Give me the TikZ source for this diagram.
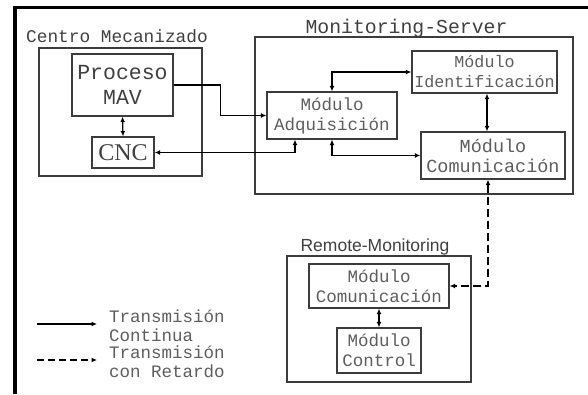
\documentclass[tikz,border=0pt]{standalone}
\usepackage{fontspec}
\usetikzlibrary{arrows.meta}
\newfontfamily\monofam{Liberation Mono}
\newfontfamily\seriffam{Liberation Serif}
\newfontfamily\sansfam{Liberation Sans}
\definecolor{boxline}{HTML}{3C3C3C}
\definecolor{txtgray}{HTML}{5E5E5E}
\definecolor{txtdark}{HTML}{404040}
\tikzset{
  box/.style={draw=boxline, line width=1.3pt, inner sep=0pt, align=center, text=txtgray},
  modbox/.style={box, font=\monofam\fontsize{17.5}{20}\selectfont},
  grouplabel/.style={anchor=base, inner sep=0pt, text=txtdark},
  conn/.style={line width=1.2pt, -{Latex[length=5.5pt,width=5pt]}},
  dconn/.style={line width=1.2pt, {Latex[length=5.5pt,width=5pt]}-{Latex[length=5.5pt,width=5pt]}},
  dashconn/.style={dconn, dash pattern=on 8pt off 4pt},
  legtext/.style={anchor=base west, inner sep=0pt, text=txtgray, font=\monofam\fontsize{17.5}{20}\selectfont}
}
\begin{document}
\begin{tikzpicture}[x=1pt,y=-1pt]
\useasboundingbox (0,0) rectangle (588,394);
\fill[white] (0,0) rectangle (588,394);
% frame
\draw[line width=3.5pt] (14.8,394) -- (14.8,7.5) -- (588,7.5);

% Centro Mecanizado
\node[box, minimum width=163pt, minimum height=128pt] (cm) at (120.5,112) {};
\node[grouplabel, font=\monofam\fontsize{17.8}{20}\selectfont] (cmlab) at (117,42) {Centro Mecanizado};
\node[box, minimum width=101pt, minimum height=62pt, text=txtdark, font=\monofam\fontsize{21.5}{25}\selectfont] (proc) at (122.5,85) {Proceso\\MAV};
\node[box, minimum width=62pt, minimum height=31pt, text=txtdark, font=\seriffam\fontsize{24}{25}\selectfont] (cnc) at (123,152.5) {CNC};

% Monitoring-Server
\node[box, minimum width=318pt, minimum height=157pt] (ms) at (414,115.5) {};
\node[grouplabel, font=\monofam\fontsize{19.8}{22}\selectfont] (mslab) at (406.5,33.5) {Monitoring-Server};
\node[modbox, minimum width=145pt, minimum height=42pt, font=\monofam\fontsize{16.7}{20}\selectfont] (ident) at (484.5,72) {Módulo\\Identificación};
\node[modbox, minimum width=130pt, minimum height=47pt] (adq) at (332,115.5) {Módulo\\Adquisición};
\node[modbox, minimum width=144pt, minimum height=47pt, font=\monofam\fontsize{18.5}{20}\selectfont] (com) at (493,155.5) {Módulo\\Comunicación};

% Remote-Monitoring
\node[box, minimum width=184pt, minimum height=126pt] (rm) at (379,319) {};
\node[grouplabel, font=\sansfam\fontsize{17.5}{20}\selectfont] (rmlab) at (375,251.5) {Remote-Monitoring};
\node[modbox, minimum width=140pt, minimum height=44pt] (rcom) at (379,286) {Módulo\\Comunicación};
\node[modbox, minimum width=84pt, minimum height=45pt] (ctrl) at (379,350.5) {Módulo\\Control};

% connectors
\draw[conn] (proc.east) -- ++(47,0) |- (adq.west);
\draw[dconn] ([xshift=-37pt]adq.south) |- (cnc.east);
\draw[dconn] (proc.south) -- (cnc.north);
\draw[dconn] (adq.north) |- (ident.west);
\draw[dconn] ([xshift=2.5pt]ident.south) -- ([xshift=2.5pt]ident.south |- com.north);
\draw[dconn] (adq.south) |- (com.west);
\draw[dashconn] ([xshift=-5pt]com.south) |- (rcom.east);
\draw[dconn] (rcom.south) -- (ctrl.north);

% legend
\coordinate (l1a) at (37,324);
\coordinate (l1b) at (97,324);
\coordinate (l2a) at (37,360);
\coordinate (l2b) at (97,360);
\draw[conn] (l1a) -- (l1b);
\draw[conn, dash pattern=on 7pt off 4pt] (l2a) -- (l2b);
\node[legtext] (t1) at (109,322.7) {Transmisión};
\node[legtext] (t2) at (109,341.7) {Continua};
\node[legtext] (t3) at (109,358) {Transmisión};
\node[legtext] (t4) at (109,377.7) {con Retardo};
\end{tikzpicture}
\end{document}
